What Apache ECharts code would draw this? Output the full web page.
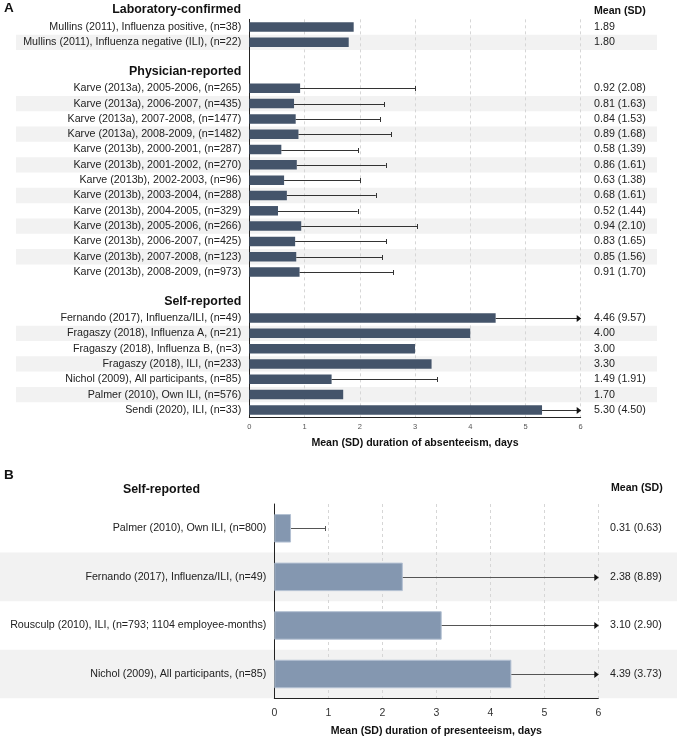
<!DOCTYPE html>
<html>
<head>
<meta charset="utf-8">
<script src="https://cdn.jsdelivr.net/npm/echarts@6/dist/echarts.min.js"></script>
<style>
  html, body { margin: 0; padding: 0; background: #fff; }
  #main { width: 677px; height: 737px; }
</style>
</head>
<body>
<div id="main"></div>
<script>
// ---------------- data ----------------
var headersA = ["Physician-reported", "Self-reported"];
var labelsA = [
  "Mullins (2011), Influenza positive, (n=38)",
  "Mullins (2011), Influenza negative (ILI), (n=22)",
  "",
  "Physician-reported",
  "Karve (2013a), 2005-2006, (n=265)",
  "Karve (2013a), 2006-2007, (n=435)",
  "Karve (2013a), 2007-2008, (n=1477)",
  "Karve (2013a), 2008-2009, (n=1482)",
  "Karve (2013b), 2000-2001, (n=287)",
  "Karve (2013b), 2001-2002, (n=270)",
  "Karve (2013b), 2002-2003, (n=96)",
  "Karve (2013b), 2003-2004, (n=288)",
  "Karve (2013b), 2004-2005, (n=329)",
  "Karve (2013b), 2005-2006, (n=266)",
  "Karve (2013b), 2006-2007, (n=425)",
  "Karve (2013b), 2007-2008, (n=123)",
  "Karve (2013b), 2008-2009, (n=973)",
  "",
  "Self-reported",
  "Fernando (2017), Influenza/ILI, (n=49)",
  "Fragaszy (2018), Influenza A, (n=21)",
  "Fragaszy (2018), Influenza B, (n=3)",
  "Fragaszy (2018), ILI, (n=233)",
  "Nichol (2009), All participants, (n=85)",
  "Palmer (2010), Own ILI, (n=576)",
  "Sendi (2020), ILI, (n=33)"
];
var meansA = [1.89, 1.80, null, null,
  0.92, 0.81, 0.84, 0.89,
  0.58, 0.86, 0.63, 0.68, 0.52, 0.94, 0.83, 0.85, 0.91,
  null, null,
  4.46, 4.00, 3.00, 3.30, 1.49, 1.70, 5.30];
var sdsA = [null, null, null, null,
  2.08, 1.63, 1.53, 1.68,
  1.39, 1.61, 1.38, 1.61, 1.44, 2.10, 1.65, 1.56, 1.70,
  null, null,
  9.57, null, null, null, 1.91, null, 4.50];
var shadeA = [0, 1, 0, 0, 0, 1, 0, 1, 0, 1, 0, 1, 0, 1, 0, 1, 0, 0, 0, 0, 1, 0, 1, 0, 1, 0];

var labelsB = [
  "Palmer (2010), Own ILI, (n=800)",
  "Fernando (2017), Influenza/ILI, (n=49)",
  "Rousculp (2010), ILI, (n=793; 1104 employee-months)",
  "Nichol (2009), All participants, (n=85)"
];
var meansB = [0.31, 2.38, 3.10, 4.39];
var sdsB = [0.63, 8.89, 2.90, 3.73];
var shadeB = [0, 1, 0, 1];

var xTicks = [0, 1, 2, 3, 4, 5, 6];

// ---------------- helpers ----------------
var FONT = "'Liberation Sans', Arial, sans-serif";
var xMax = xTicks[xTicks.length - 1];

function meanText(means, sds) {
  return means.map(function (m, i) {
    if (m == null) return "";
    return m.toFixed(2) + (sds[i] != null ? " (" + sds[i].toFixed(2) + ")" : "");
  });
}
function barData(arr) {
  return arr.map(function (v) { return v == null ? "-" : v; });
}
function shadeData(arr) {
  return arr.map(function (v) { return v ? 1 : "-"; });
}
function errData(means, sds) {
  var out = [];
  means.forEach(function (m, i) {
    if (m != null && sds[i] != null) out.push([i, m, sds[i]]);
  });
  return out;
}
// error bar: mean -> mean+SD, cap at the end or an arrow when cut off at the axis max
function makeErr(color) {
  return function (params, api) {
    var cat = api.value(0), m = api.value(1), sd = api.value(2);
    var hi = m + sd;
    var cut = hi >= xMax;
    var p0 = api.coord([m, cat]);
    var p1 = api.coord([Math.min(hi, xMax), cat]);
    var y = Math.round(p0[1]) + 0.5;
    var kids = [{
      type: "line",
      shape: { x1: p0[0], y1: y, x2: p1[0] - (cut ? 2 : 0), y2: y },
      style: { stroke: color, lineWidth: 1 }
    }];
    if (cut) {
      kids.push({
        type: "polygon",
        shape: { points: [[p1[0] - 4, y - 3.5], [p1[0] + 0.5, y], [p1[0] - 4, y + 3.5]] },
        style: { fill: "#111" }
      });
    } else {
      var cx = Math.round(p1[0]) + 0.5;
      kids.push({
        type: "line",
        shape: { x1: cx, y1: y - 2.5, x2: cx, y2: y + 2.5 },
        style: { stroke: color, lineWidth: 1 }
      });
    }
    return { type: "group", children: kids };
  };
}

var textA = meanText(meansA, sdsA);
var textB = meanText(meansB, sdsB);

var hiddenX = { type: "value", min: 0, max: 1, show: false };

function catAxis(gridIndex, data, show) {
  return {
    type: "category", gridIndex: gridIndex, data: data, inverse: true, show: show,
    axisTick: { show: false }, splitLine: { show: false }
  };
}

function mainX(gridIndex, name, labelSize, labelColor, labelMargin, nameGap) {
  return {
    type: "value", gridIndex: gridIndex, min: 0, max: xMax, interval: 1,
    name: name, nameLocation: "middle", nameGap: nameGap,
    nameTextStyle: { fontFamily: FONT, fontWeight: "bold", fontSize: 10.6, color: "#111" },
    axisLine: { show: true, lineStyle: { color: "#222", width: 1 } },
    axisTick: { show: false },
    axisLabel: { fontFamily: FONT, fontSize: labelSize, color: labelColor, margin: labelMargin },
    splitLine: { show: true, lineStyle: { color: "#d6d6d6", type: [3, 3], width: 1 } }
  };
}

function leftAxis(gridIndex, data) {
  var a = catAxis(gridIndex, data, true);
  a.axisLine = { show: true, lineStyle: { color: "#222", width: 1 } };
  a.axisLabel = {
    margin: 8, interval: 0,
    formatter: function (v) {
      if (headersA.indexOf(v) >= 0) return "{h|" + v + "}";
      return "{n|" + v + "}";
    },
    rich: {
      h: { fontFamily: FONT, fontWeight: "bold", fontSize: 12.4, color: "#111", padding: [0, 0, 3, 0] },
      n: { fontFamily: FONT, fontSize: 10.7, color: "#222" }
    }
  };
  return a;
}

function rightAxis(gridIndex, data, texts, margin) {
  var a = catAxis(gridIndex, data, true);
  a.position = "right";
  a.axisLine = { show: false };
  a.axisLabel = {
    margin: margin, interval: 0, align: "left",
    fontFamily: FONT, fontSize: 10.7, color: "#222",
    formatter: function (v, i) { return texts[i]; }
  };
  return a;
}

var option = {
  backgroundColor: "#fff",
  animation: false,
  graphic: [
    { type: "text", x: 4, y: 8, style: { text: "A", fontFamily: FONT, fontWeight: "bold", fontSize: 13.5, fill: "#111", textVerticalAlign: "middle" } },
    { type: "text", x: 241, y: 10, style: { text: "Laboratory-confirmed", fontFamily: FONT, fontWeight: "bold", fontSize: 12.4, fill: "#111", textAlign: "right", textVerticalAlign: "middle" } },
    { type: "text", x: 594, y: 11, style: { text: "Mean (SD)", fontFamily: FONT, fontWeight: "bold", fontSize: 10.6, fill: "#111", textVerticalAlign: "middle" } },
    { type: "text", x: 4, y: 475, style: { text: "B", fontFamily: FONT, fontWeight: "bold", fontSize: 13.5, fill: "#111", textVerticalAlign: "middle" } },
    { type: "text", x: 161.5, y: 490, style: { text: "Self-reported", fontFamily: FONT, fontWeight: "bold", fontSize: 12.4, fill: "#111", textAlign: "center", textVerticalAlign: "middle" } },
    { type: "text", x: 611, y: 488, style: { text: "Mean (SD)", fontFamily: FONT, fontWeight: "bold", fontSize: 10.6, fill: "#111", textVerticalAlign: "middle" } }
  ],
  grid: [
    { left: 16, right: 20, top: 19.35, height: 398.2, outerBoundsMode: "none" },
    { left: 249.3, right: 96.3, top: 19.35, height: 398.2, outerBoundsMode: "none" },
    { left: 0, right: 0, top: 504, height: 194.3, outerBoundsMode: "none" },
    { left: 274.3, right: 78.7, top: 504, height: 194.3, outerBoundsMode: "none" }
  ],
  xAxis: [
    Object.assign({ gridIndex: 0 }, hiddenX),
    mainX(1, "Mean (SD) duration of absenteeism, days", 7.5, "#555", 5, 20),
    Object.assign({ gridIndex: 2 }, hiddenX),
    mainX(3, "Mean (SD) duration of presenteeism, days", 10.5, "#333", 9, 27)
  ],
  yAxis: [
    catAxis(0, labelsA, false),
    leftAxis(1, labelsA),
    rightAxis(1, labelsA, textA, 13.4),
    catAxis(2, labelsB, false),
    leftAxis(3, labelsB),
    rightAxis(3, labelsB, textB, 11.7)
  ],
  series: [
    {
      type: "bar", xAxisIndex: 0, yAxisIndex: 0, data: shadeData(shadeA),
      barWidth: "100%", itemStyle: { color: "#f2f2f2" }, silent: true, z: -1
    },
    {
      type: "bar", xAxisIndex: 1, yAxisIndex: 1, data: barData(meansA),
      barWidth: 9.5, itemStyle: { color: "#44546a" }, silent: true
    },
    {
      type: "custom", xAxisIndex: 1, yAxisIndex: 1, data: errData(meansA, sdsA),
      encode: { x: 1, y: 0 }, renderItem: makeErr("#333"), silent: true, z: 3
    },
    {
      type: "bar", xAxisIndex: 2, yAxisIndex: 3, data: shadeData(shadeB),
      barWidth: "100%", itemStyle: { color: "#f2f2f2" }, silent: true, z: -1
    },
    {
      type: "bar", xAxisIndex: 3, yAxisIndex: 4, data: barData(meansB),
      barWidth: 28.5, itemStyle: { color: "#8497b0", borderColor: "#b3c0d2", borderWidth: 1 }, silent: true
    },
    {
      type: "custom", xAxisIndex: 3, yAxisIndex: 4, data: errData(meansB, sdsB),
      encode: { x: 1, y: 0 }, renderItem: makeErr("#555"), silent: true, z: 3
    }
  ]
};

var myChart = echarts.init(document.getElementById("main"));
myChart.setOption(option);
</script>
</body>
</html>
